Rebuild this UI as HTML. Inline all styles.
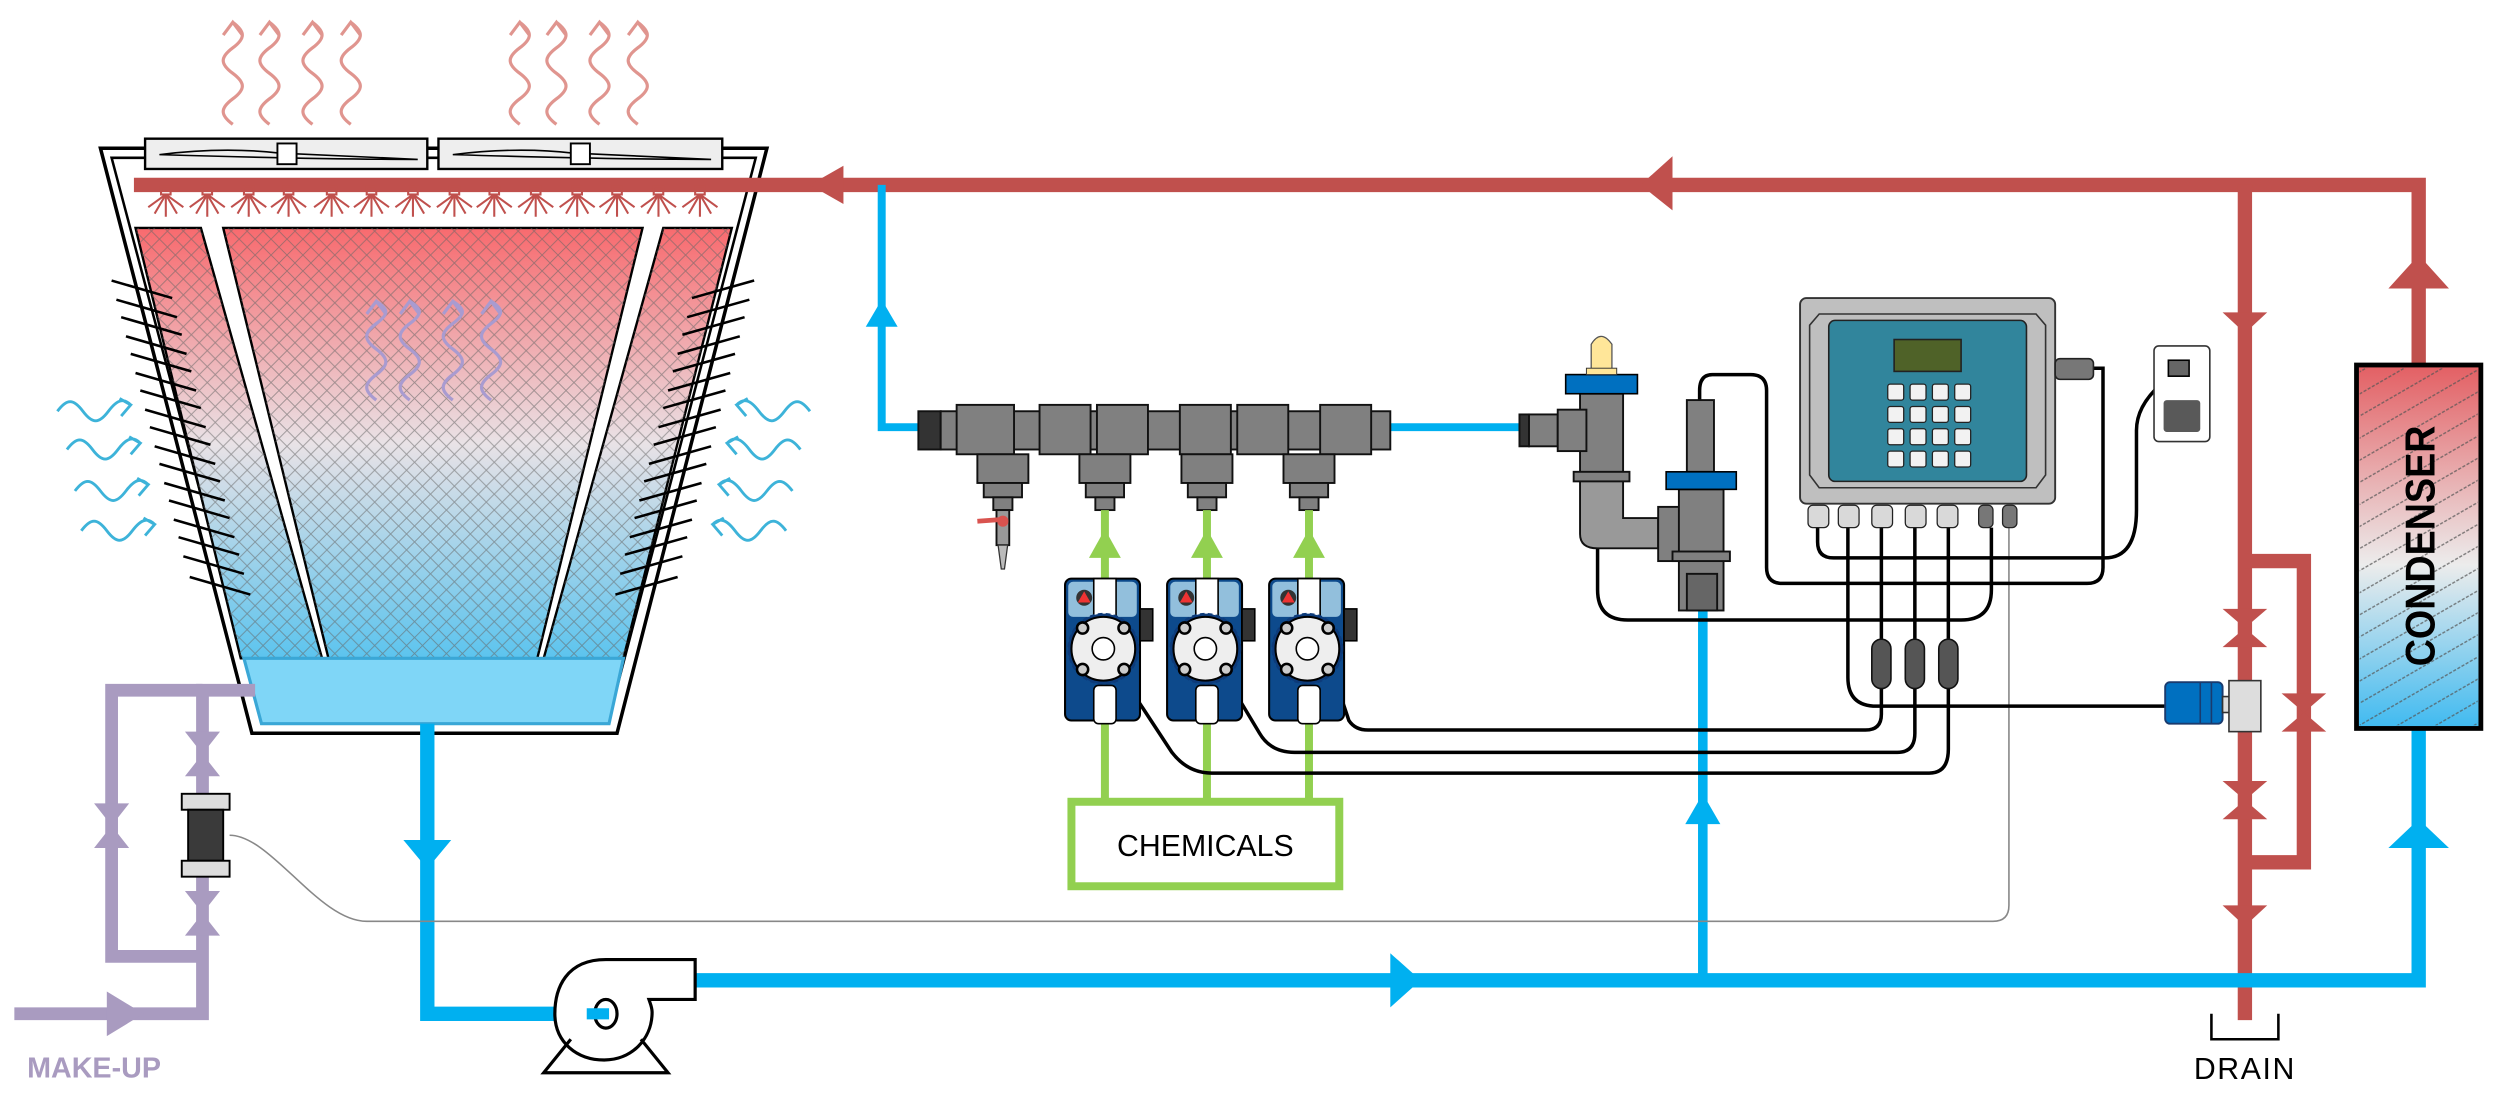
<!DOCTYPE html>
<html><head><meta charset="utf-8"><style>
html,body{margin:0;padding:0;background:#fff;}
svg{display:block;}
</style></head><body>
<svg width="2500" height="1111" viewBox="0 0 1568 697" preserveAspectRatio="none" xmlns="http://www.w3.org/2000/svg">
<defs>
<linearGradient id="fill" x1="0" y1="0" x2="0" y2="1">
<stop offset="0" stop-color="#f86a6e"/><stop offset="0.5" stop-color="#e9e2e6"/><stop offset="1" stop-color="#5cc4ee"/>
</linearGradient>
<linearGradient id="cond" x1="0" y1="0" x2="0" y2="1">
<stop offset="0" stop-color="#e35f63"/><stop offset="0.55" stop-color="#ececec"/><stop offset="1" stop-color="#3fbaf0"/>
</linearGradient>
<pattern id="hatch" width="10" height="10" patternUnits="userSpaceOnUse">
<path d="M0 0 L10 10 M10 0 L0 10" stroke="#666" stroke-width="0.6" opacity="0.6"/>
</pattern>
<pattern id="diag" width="12" height="12" patternUnits="userSpaceOnUse" patternTransform="rotate(-30)">
<path d="M0 6 L12 6" stroke="#555" stroke-width="0.9" stroke-dasharray="2 1" opacity="0.7"/>
</pattern>
</defs>

<!-- red wavy exhaust arrows -->
<g fill="none" stroke="#e0958f" stroke-width="2">
<path id="wv" d="M146 78 c-8 -6 -8 -10 0 -16 s8 -10 0 -16 s-8 -10 0 -16 s8 -10 0 -16 M140 22 L146 14 L152 22"/>
<use href="#wv" x="23"/><use href="#wv" x="50"/><use href="#wv" x="74"/>
<use href="#wv" x="180"/><use href="#wv" x="203"/><use href="#wv" x="230"/><use href="#wv" x="254"/>
</g>

<!-- tower shell -->
<polygon points="63,93 481,93 387,460 158,460" fill="#fff" stroke="#000" stroke-width="2.2"/>
<polygon points="70,99 474,99 381,454 164,454" fill="none" stroke="#000" stroke-width="1.6"/>
<!-- fans -->
<rect x="91" y="87" width="177" height="19" fill="#eee" stroke="#000" stroke-width="1.5"/>
<rect x="275" y="87" width="178" height="19" fill="#eee" stroke="#000" stroke-width="1.5"/>
<path d="M100 97 Q140 92 175 96 Q220 98 262 100 Q200 100 100 97 Z" fill="none" stroke="#000" stroke-width="1"/>
<path d="M284 97 Q324 92 359 96 Q404 98 446 100 Q384 100 284 97 Z" fill="none" stroke="#000" stroke-width="1"/>
<rect x="174" y="90" width="12" height="13" fill="#fff" stroke="#000" stroke-width="1.2"/>
<rect x="358" y="90" width="12" height="13" fill="#fff" stroke="#000" stroke-width="1.2"/>

<!-- fill panels -->
<g stroke="#000" stroke-width="1.5">
<polygon points="85,143 126,143 202,413 151,413" fill="url(#fill)"/>
<polygon points="140,143 403,143 337,413 206,413" fill="url(#fill)"/>
<polygon points="416,143 459,143 391,413 341,413" fill="url(#fill)"/>
</g>
<g stroke="none">
<polygon points="85,143 126,143 202,413 151,413" fill="url(#hatch)"/>
<polygon points="140,143 403,143 337,413 206,413" fill="url(#hatch)"/>
<polygon points="416,143 459,143 391,413 341,413" fill="url(#hatch)"/>
</g>
<!-- basin -->
<polygon points="153,413 391,413 382,454 164,454" fill="#7fd6f7" stroke="#3aa7d6" stroke-width="2"/>

<!-- purple inner arrows -->
<g fill="none" stroke="#a99bd0" stroke-width="2">
<path id="pw" d="M236 251 c-8 -6 -8 -10 0 -16 s8 -10 0 -16 s-8 -10 0 -16 s8 -9 0 -14 M230 197 L236 189 L242 197"/>
<use href="#pw" x="21"/><use href="#pw" x="48"/><use href="#pw" x="72"/>
</g>

<!-- louvers -->
<g stroke="#000" stroke-width="1.6">
<line x1="70" y1="176" x2="108" y2="187"/><line x1="73" y1="188" x2="111" y2="199"/><line x1="76" y1="199" x2="114" y2="210"/><line x1="79" y1="211" x2="117" y2="222"/><line x1="82" y1="222" x2="120" y2="233"/><line x1="85" y1="234" x2="123" y2="245"/><line x1="88" y1="245" x2="126" y2="256"/><line x1="91" y1="257" x2="129" y2="268"/><line x1="94" y1="268" x2="132" y2="279"/><line x1="97" y1="280" x2="135" y2="291"/><line x1="100" y1="291" x2="138" y2="302"/><line x1="103" y1="303" x2="141" y2="314"/><line x1="106" y1="314" x2="144" y2="325"/><line x1="109" y1="326" x2="147" y2="337"/><line x1="112" y1="337" x2="150" y2="348"/><line x1="115" y1="349" x2="153" y2="360"/><line x1="119" y1="362" x2="157" y2="373"/>
<line x1="473" y1="176" x2="434" y2="187"/><line x1="470" y1="188" x2="431" y2="199"/><line x1="467" y1="199" x2="428" y2="210"/><line x1="464" y1="211" x2="425" y2="222"/><line x1="461" y1="222" x2="422" y2="233"/><line x1="458" y1="234" x2="419" y2="245"/><line x1="455" y1="245" x2="416" y2="256"/><line x1="452" y1="257" x2="413" y2="268"/><line x1="449" y1="268" x2="410" y2="279"/><line x1="446" y1="280" x2="407" y2="291"/><line x1="443" y1="291" x2="404" y2="302"/><line x1="440" y1="303" x2="401" y2="314"/><line x1="437" y1="314" x2="398" y2="325"/><line x1="434" y1="326" x2="395" y2="337"/><line x1="431" y1="337" x2="392" y2="348"/><line x1="428" y1="349" x2="389" y2="360"/><line x1="425" y1="362" x2="386" y2="373"/>
</g>

<!-- blue wavy air arrows -->
<g fill="none" stroke="#3db3d9" stroke-width="1.8">
<path id="bw" d="M36 258 c6 -8 10 -8 16 0 s10 8 16 0 s10 -8 14 -4 M75 250 L82 254 L76 261"/>
<use href="#bw" x="6" y="24"/><use href="#bw" x="11" y="50"/><use href="#bw" x="15" y="75"/>
<path id="bw2" d="M508 258 c-6 -8 -10 -8 -16 0 s-10 8 -16 0 s-10 -8 -14 -4 M469 250 L462 254 L468 261"/>
<use href="#bw2" x="-6" y="24"/><use href="#bw2" x="-11" y="50"/><use href="#bw2" x="-15" y="75"/>
</g>

<!-- red pipes -->
<g stroke="#c0504d" stroke-width="9" fill="none">
<path d="M84 116 L1517 116 L1517 230"/>
<path d="M1408 116 L1408 640"/>
<path d="M1408 352 L1445 352 L1445 541 L1408 541"/>
</g>
<g fill="#c0504d">
<polygon points="508,116 529,104 529,128"/>
<polygon points="1029,116 1049,98 1049,132"/>
<polygon points="1517,160 1498,181 1536,181"/>
<polygon points="1408,209 1394,196 1422,196"/>
<polygon points="1408,581 1394,568 1422,568"/>
<polygon points="1394,382 1422,382 1394,406 1422,406"/>
<polygon points="1394,490 1422,490 1394,514 1422,514"/>
<polygon points="1431,435 1459,435 1431,459 1459,459"/>
</g>
<!-- nozzles -->
<g stroke="#c0504d" stroke-width="1.3" fill="#c0504d">
<g id="nz"><rect x="101" y="117" width="6" height="5" fill="none"/><path d="M104 122 L104 136 M104 122 L97 134 M104 122 L111 134 M104 122 L93 130 M104 122 L115 130" fill="none"/></g>
<use href="#nz" x="26"/><use href="#nz" x="52"/><use href="#nz" x="77"/><use href="#nz" x="104"/><use href="#nz" x="129"/><use href="#nz" x="155"/><use href="#nz" x="181"/><use href="#nz" x="206"/><use href="#nz" x="232"/><use href="#nz" x="258"/><use href="#nz" x="283"/><use href="#nz" x="309"/><use href="#nz" x="335"/>
</g>

<!-- blue pipes -->
<g stroke="#00b0f0" fill="none">
<path d="M268 454 L268 636 L382 636" stroke-width="9"/>
<path d="M436 615 L1517 615 L1517 457" stroke-width="9"/>
<path d="M1068 615 L1068 383" stroke-width="6"/>
<path d="M553 116 L553 268 L580 268" stroke-width="5"/>
<path d="M872 268 L956 268" stroke-width="5"/>
</g>
<g fill="#00b0f0">
<polygon points="268,545 253,527 283,527"/>
<polygon points="553,188 543,205 563,205"/>
<polygon points="891,615 872,598 872,632"/>
<polygon points="1068,498 1057,517 1079,517"/>
<polygon points="1517,514 1498,532 1536,532"/>
</g>

<!-- pump -->
<path d="M436 602 L380 602 C355 602 348 620 348 636 C348 654 362 665 379 665 C396 665 409 652 409 635 C409 632 408 630 407 627 L436 627 Z" fill="#fff" stroke="#000" stroke-width="2"/>
<ellipse cx="380" cy="636" rx="7" ry="9" fill="#fff" stroke="#000" stroke-width="2"/>
<path d="M368 636 L382 636" stroke="#00b0f0" stroke-width="7"/>
<path d="M358 652 L341 673 L419 673 L402 652" fill="none" stroke="#000" stroke-width="2"/>

<!-- purple make-up -->
<g stroke="#a99bc0" stroke-width="8" fill="none">
<path d="M9 636 L127 636 L127 433 L160 433"/>
<path d="M127 433 L70 433 L70 600 L127 600"/>
</g>
<polygon points="67,622 90,636 67,650" fill="#a99bc0"/>
<g fill="#a99bc0">
<polygon points="116,459 138,459 116,487 138,487"/>
<polygon points="59,504 81,504 59,532 81,532"/>
<polygon points="116,559 138,559 116,587 138,587"/>
</g>
<g stroke="#000" stroke-width="1.2">
<rect x="114" y="498" width="30" height="10" fill="#ddd"/>
<rect x="118" y="508" width="22" height="32" fill="#3a3a3a"/>
<rect x="114" y="540" width="30" height="10" fill="#ddd"/>
</g>
<text x="17" y="676" font-family="Liberation Sans, sans-serif" font-weight="bold" font-size="18" fill="#a99bc0">MAKE-UP</text>

<!-- gray signal line -->
<path d="M144 524 C170 524 200 578 230 578 L1250 578 Q1260 578 1260 568 L1260 331" fill="none" stroke="#888" stroke-width="1"/>

<!-- manifold -->
<g stroke="#111" stroke-width="1.2" fill="#808080">
<rect x="576" y="258" width="14" height="24" fill="#333"/>
<rect x="590" y="258" width="282" height="24"/>
<rect x="600" y="254" width="36" height="31"/><rect x="652" y="254" width="32" height="31"/><rect x="688" y="254" width="32" height="31"/><rect x="740" y="254" width="32" height="31"/><rect x="776" y="254" width="32" height="31"/><rect x="828" y="254" width="32" height="31"/>
<rect x="613" y="285" width="32" height="18"/><rect x="677" y="285" width="32" height="18"/><rect x="741" y="285" width="32" height="18"/><rect x="805" y="285" width="32" height="18"/>
<rect x="617" y="303" width="24" height="9"/><rect x="681" y="303" width="24" height="9"/><rect x="745" y="303" width="24" height="9"/><rect x="809" y="303" width="24" height="9"/>
<rect x="623" y="312" width="12" height="8"/><rect x="687" y="312" width="12" height="8"/><rect x="751" y="312" width="12" height="8"/><rect x="815" y="312" width="12" height="8"/>
<rect x="625" y="320" width="8" height="22" fill="#999"/>
</g>
<path d="M626 342 L632 342 L630 357 L628 357 Z" fill="#bbb" stroke="#333" stroke-width="0.8"/>
<path d="M613 327 L627 326" stroke="#d9534f" stroke-width="3"/><circle cx="629" cy="327" r="3.5" fill="#d9534f"/>

<!-- green chemical lines -->
<g stroke="#92d050" stroke-width="5" fill="none">
<path d="M693 320 L693 503 M757 320 L757 503 M821 320 L821 503"/>
<rect x="672" y="503" width="168" height="53"/>
</g>
<g fill="#92d050">
<polygon points="693,332 683,350 703,350"/><polygon points="757,332 747,350 767,350"/><polygon points="821,332 811,350 831,350"/>
</g>
<text x="756" y="537" text-anchor="middle" font-family="Liberation Sans, sans-serif" font-size="19" fill="#000">CHEMICALS</text>

<!-- cables from pumps -->
<g fill="none" stroke="#000" stroke-width="2.2">
<path d="M714 440 L735 472 Q745 485 760 485 L1210 485 Q1222 485 1222 470 L1222 432"/>
<path d="M778 440 L790 460 Q797 472 812 472 L1190 472 Q1201 472 1201 460 L1201 432"/>
<path d="M842 440 L846 452 Q850 458 858 458 L1170 458 Q1180 458 1180 448 L1180 432"/>
<path d="M1159 331 L1159 425 Q1159 443 1177 443 L1360 443"/>
<path d="M1140 331 L1140 340 Q1140 350 1150 350 L1320 350 Q1340 350 1340 320 L1340 270 Q1340 250 1366 233"/>
<path d="M1313 231 L1319 231 L1319 356 Q1319 366 1309 366 L1118 366 Q1108 366 1108 356 L1108 245 Q1108 235 1098 235 L1074 235 Q1066 235 1066 245 L1066 251"/>
<path d="M1002 344 L1002 370 Q1002 389 1021 389 L1230 389 Q1249 389 1249 370 L1249 331"/>
<path d="M1180 331 L1180 401 M1201 331 L1201 401 M1222 331 L1222 401"/>
</g>
<g fill="#555" stroke="#111" stroke-width="1">
<rect x="1174" y="401" width="12" height="31" rx="6"/><rect x="1195" y="401" width="12" height="31" rx="6"/><rect x="1216" y="401" width="12" height="31" rx="6"/>
</g>

<!-- dosing pumps -->
<g id="dp">
<rect x="668" y="363" width="47" height="89" rx="4" fill="#0d4a8c" stroke="#000" stroke-width="1.3"/>
<rect x="670" y="365" width="43" height="22" rx="3" fill="#92bfdc"/>
<circle cx="680" cy="375" r="5" fill="#333"/><polygon points="680,371 684,378 676,378" fill="#e33"/>
<rect x="686" y="363" width="14" height="24" fill="#fff" stroke="#000"/>
<rect x="715" y="382" width="8" height="20" fill="#333" stroke="#000"/>
<circle cx="692" cy="407" r="22" fill="#0d3b7a" stroke="#0d3b7a" stroke-dasharray="3 2"/>
<circle cx="692" cy="407" r="20" fill="#eee" stroke="#000" stroke-width="1.3"/>
<circle cx="692" cy="407" r="7" fill="#fff" stroke="#000"/>
<circle cx="679" cy="394" r="3.5" fill="#ccc" stroke="#000" stroke-width="1.6"/><circle cx="705" cy="394" r="3.5" fill="#ccc" stroke="#000" stroke-width="1.6"/>
<circle cx="679" cy="420" r="3.5" fill="#ccc" stroke="#000" stroke-width="1.6"/><circle cx="705" cy="420" r="3.5" fill="#ccc" stroke="#000" stroke-width="1.6"/>
<rect x="686" y="430" width="14" height="24" rx="3" fill="#fff" stroke="#000"/>
</g>
<use href="#dp" x="64"/><use href="#dp" x="128"/>

<!-- flow cell -->
<g stroke="#111" stroke-width="1.2" fill="#808080">
<path d="M991 300 L991 335 Q991 344 1002 344 L1040 344 L1040 325 L1018 325 L1018 300 Z" fill="#999"/>
<rect x="991" y="247" width="27" height="53"/>
<rect x="953" y="260" width="6" height="20" fill="#333"/>
<rect x="959" y="260" width="18" height="20"/>
<rect x="977" y="257" width="18" height="26"/>
<rect x="987" y="296" width="35" height="6"/>
<rect x="1040" y="318" width="15" height="34"/>
<rect x="1053" y="307" width="28" height="76"/>
<rect x="1049" y="346" width="36" height="6"/>
<rect x="1058" y="251" width="17" height="45"/>
<rect x="1058" y="360" width="19" height="23" fill="#666"/>
</g>
<rect x="982" y="235" width="45" height="12" fill="#0070c0" stroke="#000" stroke-width="1"/>
<rect x="1045" y="296" width="44" height="11" fill="#0070c0" stroke="#000" stroke-width="1"/>
<path d="M998 232 L998 216 Q1004 206 1011 216 L1011 232 Z" fill="#ffe699" stroke="#555" stroke-width="0.8"/>
<rect x="995" y="231" width="19" height="4" fill="#ffe699" stroke="#333" stroke-width="0.6"/>

<!-- controller -->
<rect x="1129" y="187" width="160" height="129" rx="4" fill="#bfbfbf" stroke="#333" stroke-width="1.2"/>
<polygon points="1141,197 1277,197 1283,204 1283,298 1277,306 1141,306 1135,298 1135,204" fill="none" stroke="#333" stroke-width="1"/>
<rect x="1147" y="201" width="124" height="101" rx="4" fill="#31859c" stroke="#222"/>
<rect x="1188" y="213" width="42" height="20" fill="#4f6228" stroke="#222"/>
<g fill="#f2f2f2" stroke="#222" stroke-width="0.8">
<rect x="1184" y="241" width="10" height="10" rx="1.5"/><rect x="1198" y="241" width="10" height="10" rx="1.5"/><rect x="1212" y="241" width="10" height="10" rx="1.5"/><rect x="1226" y="241" width="10" height="10" rx="1.5"/>
<rect x="1184" y="255" width="10" height="10" rx="1.5"/><rect x="1198" y="255" width="10" height="10" rx="1.5"/><rect x="1212" y="255" width="10" height="10" rx="1.5"/><rect x="1226" y="255" width="10" height="10" rx="1.5"/>
<rect x="1184" y="269" width="10" height="10" rx="1.5"/><rect x="1198" y="269" width="10" height="10" rx="1.5"/><rect x="1212" y="269" width="10" height="10" rx="1.5"/><rect x="1226" y="269" width="10" height="10" rx="1.5"/>
<rect x="1184" y="283" width="10" height="10" rx="1.5"/><rect x="1198" y="283" width="10" height="10" rx="1.5"/><rect x="1212" y="283" width="10" height="10" rx="1.5"/><rect x="1226" y="283" width="10" height="10" rx="1.5"/>
</g>
<g fill="#d9d9d9" stroke="#222" stroke-width="0.8">
<rect x="1134" y="317" width="13" height="14" rx="3"/><rect x="1153" y="317" width="13" height="14" rx="3"/><rect x="1174" y="317" width="13" height="14" rx="3"/><rect x="1195" y="317" width="13" height="14" rx="3"/><rect x="1215" y="317" width="13" height="14" rx="3"/>
<rect x="1241" y="317" width="9" height="14" rx="3" fill="#777"/><rect x="1256" y="317" width="9" height="14" rx="3" fill="#777"/>
</g>
<rect x="1289" y="225" width="24" height="13" rx="3" fill="#777" stroke="#222"/>

<!-- outlet -->
<rect x="1351" y="217" width="35" height="60" rx="3" fill="#fff" stroke="#333" stroke-width="1"/>
<rect x="1360" y="226" width="13" height="10" fill="#666" stroke="#000"/>
<rect x="1357" y="251" width="23" height="20" rx="2" fill="#595959"/>

<!-- solenoid valve -->
<rect x="1358" y="428" width="36" height="26" rx="3" fill="#0070c0" stroke="#1a3b6e" stroke-width="1.2"/>
<path d="M1380 428 L1380 454 M1387 428 L1387 454" stroke="#1a3b6e"/>
<rect x="1394" y="437" width="10" height="10" fill="#ddd" stroke="#333"/>
<rect x="1398" y="427" width="20" height="32" fill="#ddd" stroke="#333" stroke-width="1"/>

<!-- condenser -->
<rect x="1478" y="229" width="78" height="228" fill="url(#cond)" stroke="#000" stroke-width="3"/>
<rect x="1480" y="231" width="74" height="224" fill="url(#diag)"/>
<text transform="translate(1527,418) rotate(-90)" font-family="Liberation Sans Narrow, Liberation Sans, sans-serif" font-weight="bold" font-size="26" textLength="151" lengthAdjust="spacingAndGlyphs" fill="#000">CONDENSER</text>

<!-- drain -->
<path d="M1387 636 L1387 652 L1429 652 L1429 636" fill="none" stroke="#000" stroke-width="1.6"/>
<text x="1408" y="677" text-anchor="middle" font-family="Liberation Sans, sans-serif" font-size="19" letter-spacing="1" fill="#000">DRAIN</text>
</svg>
</body></html>
